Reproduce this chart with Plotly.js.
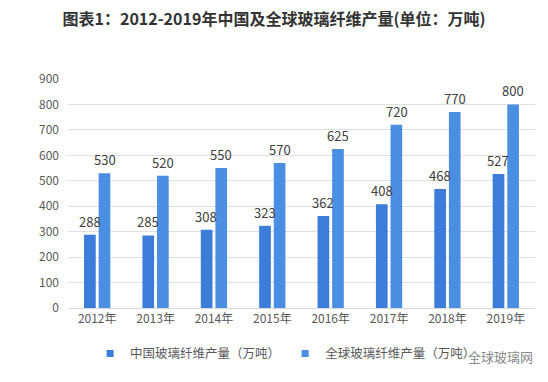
<!DOCTYPE html>
<html><head><meta charset="utf-8">
<script src="https://cdn.plot.ly/plotly-3.0.1.min.js"></script>
<style>html,body{margin:0;padding:0;background:#fff}#c{width:548px;height:382px}</style>
</head><body><div id="c"></div>
<script>
const years = ["2012年","2013年","2014年","2015年","2016年","2017年","2018年","2019年"];
const china = [288,285,308,323,362,408,468,527];
const world = [530,520,550,570,625,720,770,800];
const chinaName = "中国玻璃纤维产量（万吨）";
const worldName = "全球玻璃纤维产量（万吨）";
const titleText = "图表1：2012-2019年中国及全球玻璃纤维产量(单位：万吨)";
const F = '"Noto Sans CJK SC", "Noto Sans", sans-serif';
const cChina = '#3B7DD8', cWorld = '#4A8FE2';

const traces = [
  {type:'bar', x:years, y:china, name:chinaName, marker:{color:cChina}, showlegend:false},
  {type:'bar', x:years, y:world, name:worldName, marker:{color:cWorld}, showlegend:false},
  {type:'scatter', mode:'markers', x:[years[0]], y:[null], name:chinaName,
   marker:{symbol:'square', size:7, color:cChina}},
  {type:'scatter', mode:'markers', x:[years[0]], y:[null], name:worldName,
   marker:{symbol:'square', size:7, color:cWorld}}
];
const ann = [];
years.forEach((yr,i)=>{
  ann.push({x:yr, y:china[i], text:String(china[i]), xref:'x', yref:'y', showarrow:false,
            xshift:-7.5, yshift:2, yanchor:'bottom', font:{size:13,color:'#404040',family:F}});
  ann.push({x:yr, y:world[i], text:String(world[i]), xref:'x', yref:'y', showarrow:false,
            xshift:7.5, yshift:2, yanchor:'bottom', font:{size:13,color:'#404040',family:F}});
});
ann.push({text:'全球玻璃网', xref:'paper', yref:'paper', x:1.0, y:-0.21, xanchor:'right',
          yanchor:'middle', showarrow:false, font:{size:13,color:'#8a8a8a',family:F}});
const layout = {
  width:548, height:382,
  margin:{l:68,r:13,t:79,b:74},
  paper_bgcolor:'#fff', plot_bgcolor:'#fff',
  font:{family:F,color:'#595959',size:12},
  title:{text:'<b>'+titleText+'</b>', x:0.5, xanchor:'center', y:0.948, yanchor:'middle',
         font:{size:16,color:'#333',family:F}},
  barmode:'group', bargap:0.5, bargroupgap:0.2,
  xaxis:{type:'category', showgrid:false, showline:true, linecolor:'#d9d9d9', ticks:'',
         tickfont:{size:12,color:'#595959'}},
  yaxis:{range:[0,900], dtick:100, showgrid:true, gridcolor:'#e0e0e0', zeroline:false,
         ticks:'', tickfont:{size:12,color:'#595959'}, ticklabelstandoff:8},
  showlegend:true,
  legend:{orientation:'h', x:0.466, xanchor:'center', y:-0.20, yanchor:'middle',
          font:{size:12.5,color:'#595959'}, itemwidth:30, traceorder:'normal'},
  annotations:ann
};
Plotly.newPlot('c', traces, layout, {staticPlot:true});
</script></body></html>
